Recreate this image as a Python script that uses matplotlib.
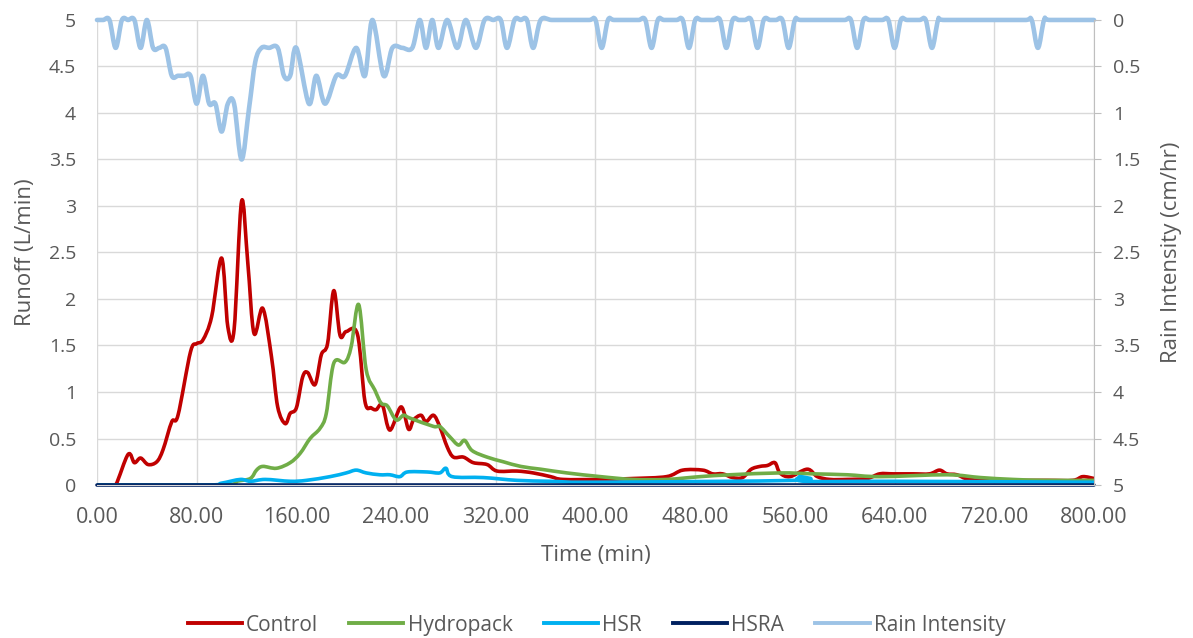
import numpy as np
import matplotlib
matplotlib.use("Agg")
import matplotlib.pyplot as plt
from matplotlib.path import Path
from matplotlib.patches import PathPatch
from matplotlib.lines import Line2D
from matplotlib.ticker import FuncFormatter, MultipleLocator

plt.rcParams['font.family'] = ['Open Sans', 'DejaVu Sans']

# values (time in min)
control_t = [0, 10, 15, 25, 30, 35, 41, 48, 53, 60, 65, 75, 80, 85, 92, 100, 105, 110, 116, 121, 126,
             133, 140, 145, 151, 155, 160, 165, 169, 175, 180, 185, 190, 195, 200, 209, 215, 220,
             224, 229, 235, 244, 250, 254, 260, 264, 270, 275, 281, 286, 294, 302, 313, 321, 337,
             350, 364, 374, 404, 430, 457, 470, 486, 494, 502, 510, 518, 525, 532, 538, 544, 548,
             556, 570, 578, 588, 602, 618, 628, 639, 655, 668, 676, 682, 690, 700, 722, 762, 783,
             791, 800]
control_v = [0, 0, 0, 0.33, 0.24, 0.29, 0.22, 0.25, 0.38, 0.68, 0.75, 1.43, 1.52, 1.56, 1.81, 2.44, 1.70,
             1.67, 3.05, 2.39, 1.63, 1.90, 1.38, 0.84, 0.66, 0.77, 0.83, 1.16, 1.21, 1.08, 1.40, 1.52,
             2.09, 1.61, 1.65, 1.62, 0.90, 0.83, 0.81, 0.86, 0.59, 0.84, 0.60, 0.70, 0.75, 0.68, 0.75,
             0.63, 0.41, 0.30, 0.30, 0.24, 0.22, 0.15, 0.15, 0.13, 0.09, 0.06, 0.06, 0.07, 0.09, 0.16,
             0.16, 0.12, 0.12, 0.08, 0.08, 0.17, 0.20, 0.21, 0.24, 0.13, 0.09, 0.17, 0.09, 0.06, 0.06,
             0.07, 0.12, 0.12, 0.12, 0.12, 0.16, 0.12, 0.11, 0.06, 0.05, 0.05, 0.05, 0.09, 0.07]

hydro_t = [0, 100, 112, 123, 128, 133, 144, 155, 163, 171, 179, 184, 190, 199, 204, 210, 216, 223,
           228, 233, 240, 246, 251, 270, 275, 283, 290, 295, 301, 313, 326, 340, 356, 377, 404, 430,
           457, 484, 508, 548, 575, 602, 628, 682, 709, 735, 762, 800]
hydro_v = [0, 0, 0.04, 0.07, 0.16, 0.20, 0.18, 0.24, 0.34, 0.50, 0.61, 0.77, 1.31, 1.32, 1.49, 1.94,
           1.24, 1.02, 0.88, 0.85, 0.70, 0.75, 0.72, 0.63, 0.63, 0.52, 0.43, 0.48, 0.37, 0.30, 0.25,
           0.20, 0.17, 0.13, 0.09, 0.06, 0.06, 0.09, 0.11, 0.13, 0.12, 0.11, 0.09, 0.11, 0.08, 0.06,
           0.05, 0.05]

hsr_t = [0, 88, 100, 115, 123, 135, 155, 168, 187, 200, 208, 216, 227, 235, 243, 249, 265, 275, 280,
         285, 310, 337, 364, 400, 560, 564, 568, 640, 800]
hsr_v = [0, 0, 0.02, 0.06, 0.04, 0.06, 0.04, 0.05, 0.09, 0.13, 0.16, 0.13, 0.11, 0.11, 0.09, 0.14,
         0.14, 0.13, 0.18, 0.09, 0.08, 0.05, 0.04, 0.03, 0.05, 0.09, 0.04, 0.04, 0.03]

hsra_t = [0, 800]
hsra_v = [0, 0]

rain_t = [0, 5, 10, 15, 20, 25, 30, 35, 40, 45, 50, 55, 60, 65, 70, 75, 80, 85, 90, 95,
          100, 105, 110, 116, 122, 127, 132, 138, 145,
          150, 155, 160, 170, 176, 183, 192, 199, 208, 215, 221, 230, 237, 245, 253,
          259, 264, 269, 274, 281, 289, 296, 304, 311, 318, 324, 329, 335, 340, 345, 350, 356,
          365, 380, 395, 400, 405, 410, 415, 430, 435, 440, 445, 450, 455, 465, 470, 475, 480,
          485, 495, 500, 505, 510, 515, 520, 525, 530, 535, 540, 545, 550, 555, 560, 565,
          590, 600, 605, 610, 615, 620, 630, 635, 640, 645, 650, 660, 665, 670, 675, 680,
          720, 745, 750, 755, 760, 765, 800]
rain_v = [0, 0, 0, 0.3, 0, 0, 0, 0.3, 0, 0.3, 0.3, 0.3, 0.6, 0.6, 0.6, 0.6, 0.9, 0.6, 0.9, 0.9,
          1.2, 0.9, 0.9, 1.5, 0.95, 0.45, 0.3, 0.3, 0.3,
          0.6, 0.6, 0.3, 0.9, 0.6, 0.9, 0.6, 0.6, 0.3, 0.6, 0, 0.6, 0.3, 0.3, 0.3,
          0, 0.3, 0, 0.3, 0, 0.3, 0, 0.3, 0, 0, 0, 0.3, 0, 0, 0, 0.3, 0,
          0, 0, 0, 0, 0.3, 0, 0, 0, 0, 0, 0.3, 0, 0, 0, 0, 0.3, 0,
          0, 0, 0, 0.3, 0, 0, 0, 0, 0.3, 0, 0, 0, 0, 0.3, 0, 0,
          0, 0, 0, 0.3, 0, 0, 0, 0, 0.3, 0, 0, 0, 0, 0.3, 0, 0,
          0, 0, 0, 0.3, 0, 0, 0]

grey = '#595959'


def smooth_path(x, y):
    # excel style smoothed line (catmull-rom as cubic bezier)
    p = np.column_stack([x, y]).astype(float)
    n = len(p)
    verts = [p[0]]
    codes = [Path.MOVETO]
    for i in range(n - 1):
        p0 = p[i - 1] if i > 0 else p[i]
        p3 = p[i + 2] if i + 2 < n else p[i + 1]
        c1 = p[i] + (p[i + 1] - p0) / 6
        c2 = p[i + 1] - (p3 - p[i]) / 6
        verts += [c1, c2, p[i + 1]]
        codes += [Path.CURVE4] * 3
    return Path(verts, codes)


def draw(ax, x, y, color, lw, clip=True):
    patch = PathPatch(smooth_path(x, y), fill=False, edgecolor=color, lw=lw,
                      capstyle='round', joinstyle='round', clip_on=clip)
    ax.add_patch(patch)


fig = plt.figure(figsize=(11.93, 6.38), dpi=100)
ax = fig.add_axes([0.0813, 0.2398, 0.8357, 0.7289])
ax2 = ax.twinx()

series = [
    ('Control', control_t, control_v, '#C00000'),
    ('Hydropack', hydro_t, hydro_v, '#70AD47'),
    ('HSR', hsr_t, hsr_v, '#00B0F0'),
    ('HSRA', hsra_t, hsra_v, '#002060'),
]
for name, t, v, c in series:
    draw(ax, t, v, c, 2.6, clip=(name != 'HSRA'))
draw(ax2, rain_t, rain_v, '#9DC3E6', 3.3, clip=False)

ax.set_xlim(0, 800)
ax.set_ylim(0, 5)
ax2.set_ylim(5, 0)
ax.xaxis.set_major_locator(MultipleLocator(80))
ax.yaxis.set_major_locator(MultipleLocator(0.5))
ax2.yaxis.set_major_locator(MultipleLocator(0.5))
ax.xaxis.set_major_formatter(FuncFormatter(lambda v, p: f"{v:.2f}"))
fmt = FuncFormatter(lambda v, p: f"{v:g}")
ax.yaxis.set_major_formatter(fmt)
ax2.yaxis.set_major_formatter(fmt)

ax.grid(True, color='#D9D9D9', lw=1)
ax.set_axisbelow(True)
for a in (ax, ax2):
    for s in a.spines.values():
        s.set_visible(False)
ax2.spines['right'].set_visible(True)
ax2.spines['right'].set_color('#BFBFBF')
ax.spines['bottom'].set_visible(True)
ax.spines['bottom'].set_color('#D9D9D9')

ax.tick_params(axis='y', length=0, labelsize=14, labelcolor=grey, pad=15)
ax.tick_params(axis='x', length=0, labelsize=15.5, labelcolor=grey, pad=16)
ax2.tick_params(axis='y', length=5, color='#BFBFBF', labelsize=14, labelcolor=grey, pad=8.5)

ax.set_xlabel('Time (min)', fontsize=16, color=grey, labelpad=12)
ax.set_ylabel('Runoff (L/min)', fontsize=16, color=grey, labelpad=9)
ax2.set_ylabel('Rain Intensity (cm/hr)', fontsize=16, color=grey, labelpad=15)

handles = [Line2D([], [], color=c, lw=2.8) for _, _, _, c in series]
handles.append(Line2D([], [], color='#9DC3E6', lw=2.8))
labels = [s[0] for s in series] + ['Rain Intensity']
fig.legend(handles, labels, loc='center', bbox_to_anchor=(0.5, 0.02), ncol=5, frameon=False,
           fontsize=15, labelcolor=grey, handlelength=2.6, handletextpad=0.2, columnspacing=1.5)

fig.savefig('out.png', dpi=100)
